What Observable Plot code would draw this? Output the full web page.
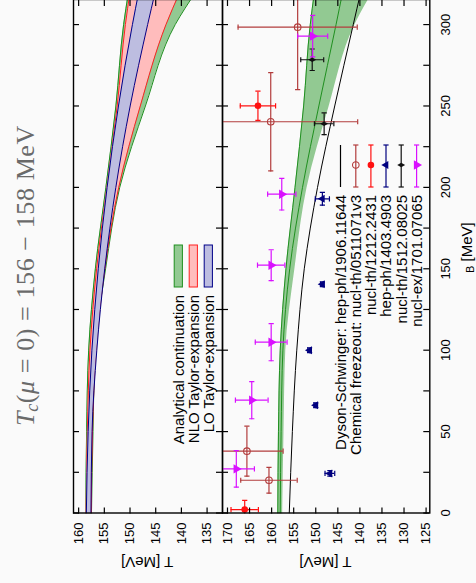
<!DOCTYPE html>
<html><head><meta charset="utf-8">
<script src="https://cdn.jsdelivr.net/npm/d3@7"></script>
<script src="https://cdn.jsdelivr.net/npm/@observablehq/plot@0.6"></script>
<style>
html,body{margin:0;padding:0;background:#fafafa;overflow:hidden;width:476px;height:583px}
#wrap{position:absolute;left:0;top:0;width:583px;height:476px;transform-origin:0 0;transform:translate(0px,583px) rotate(-90deg);}
.panel{position:absolute;left:0}
.panel svg{overflow:visible}
</style></head><body>
<div id="wrap"><div id="upper" class="panel" style="top:70.7px"></div><div id="lower" class="panel" style="top:219.7px"></div></div>
<script>
// ---------- data ----------
const muTickLabels = [0, 50, 100, 150, 200, 250, 300];
const muTicks = [0, 25, 50, 75, 100, 125, 150, 175, 200, 225, 250, 275, 300];
const tTicksUpper = [135, 140, 145, 150, 155, 160];
const tTicksLower = [125, 130, 135, 140, 145, 150, 155, 160, 165, 170];

// crossover bands (mu_B in MeV, T in MeV)
const bandMu  = [0, 50, 100, 150, 200, 250, 300, 320];
const acHigh  = [158.6, 158.45, 158.05, 156.75, 154.7, 152.75, 151.25, 150.3];
const acMid   = [158.05, 157.85, 157.45, 155.9, 153.0, 149.3, 145.4, 143.9];
const acLow   = [157.5, 157.2, 156.8, 154.75, 152.0, 147.0, 141.2, 137.2];
const nloHigh = [158.55, 158.3, 157.8, 156.5, 154.5, 152.5, 150.9, 150.0];
const nloLow  = [157.55, 157.3, 156.6, 154.9, 152.2, 148.0, 143.0, 140.3];
const loHigh  = [158.5, 158.15, 157.42, 156.18, 154.46, 152.25, 149.53, 148.3];
const loLow   = [157.6, 157.39, 156.46, 154.92, 152.76, 149.97, 146.57, 145.1];

// Dyson-Schwinger line
const dsMu = [0, 50, 100, 150, 200, 250, 300, 320];
const dsT  = [156.0, 155.3, 154.3, 152.6, 149.6, 145.7, 141.5, 139.8];

// chemical freeze-out points
const cfLabels = ["nucl-th/0511071v3", "nucl-th/1212.2431", "hep-ph/1403.4903", "nucl-th/1512.08025", "nucl-ex/1701.07065"];
const cfMu    = [[298.4, 240.3, 38.0, 20.1], [250.1, 2.1], [193.0, 140.5, 100.0, 66.2, 24.3], [278.4, 239.1], [292.9, 195.8, 152.2, 104.9, 69.3, 27.1]];
const cfMuErr = [[38.3, 30.2, 15.4, 7.9], [9.0, 5.7], [3.9, 1.5, 1.5, 1.5, 1.7], [6.6, 6.7], [12.7, 9.7, 9.5, 11.4, 11.4, 11.2]];
const cfT     = [[154.1, 160.2, 165.6, 160.6], [163.1, 166.1], [148.5, 148.5, 151.4, 150.0, 146.8], [150.8, 148.1], [150.7, 157.7, 160.1, 160.1, 164.5, 168.0]];
const cfTErr  = [[13.5, 19.7, 8.2, 6.4], [4.0, 3.1], [1.6, 0.4, 0.4, 0.4, 1.1], [2.6, 2.2], [3.4, 3.2, 3.1, 3.6, 3.7, 4.1]];

const upperLegend = ["Analytical continuation", "NLO Taylor-expansion", "LO Taylor-expansion"];
const lowerLegend = ["Dyson-Schwinger: hep-ph/1906.11644", "Chemical freezeout: nucl-th/0511071v3", "nucl-th/1212.2431", "hep-ph/1403.4903", "nucl-th/1512.08025", "nucl-ex/1701.07065"];

// ---------- styles ----------
const cfColor  = ["#b23c3c", "#ff1010", "#00007f", "#111111", "#d910ff"];
const cfSymbol = ["circle", "circle", "triangle", "diamond", "triangle"];
const cfFill   = ["none", "#ff1010", "#00007f", "#111111", "#d910ff"];
const cfRotate = [0, 0, 0, 0, 180];
const cfR      = [3.3, 3.3, 3.0, 2.4, 3.5];
const gFill = "rgba(60,160,60,0.55)", gLine = "#1f8f1f";
const rFill = "#ffbcbc", rLine = "#ff2020";
const bFill = "#bdbde0", bLine = "#000088";

const W = 583, mL = 69.5, frameW = W - mL;
const muDomain = [0, 315.4];
const font = "'Liberation Sans', Arial, sans-serif";
const curve = "monotone-x";

const bandRows = bandMu.map((mu, i) => ({mu, acHigh: acHigh[i], acMid: acMid[i], acLow: acLow[i], nloHigh: nloHigh[i], nloLow: nloLow[i], loHigh: loHigh[i], loLow: loLow[i]}));
const dsRows = dsMu.map((mu, i) => ({mu, T: dsT[i]}));

const hCap = {draw(ctx, size) { const r = Math.sqrt(size / Math.PI); ctx.moveTo(-r, 0); ctx.lineTo(r, 0); }};
const vCap = {draw(ctx, size) { const r = Math.sqrt(size / Math.PI); ctx.moveTo(0, -r); ctx.lineTo(0, r); }};

function frameTicks(tVals, frameH) {
  return [
    Plot.frame({stroke: "black", strokeWidth: 1.4}),
    Plot.tickY(tVals, {y: d => d, insetRight: frameW - 6, stroke: "black", strokeWidth: 1.2}),
    Plot.tickY(tVals, {y: d => d, insetLeft: frameW - 6, stroke: "black", strokeWidth: 1.2}),
    Plot.tickX(muTicks, {x: d => d, insetTop: frameH - 6, stroke: "black", strokeWidth: 1.2}),
    Plot.tickX(muTicks, {x: d => d, insetBottom: frameH - 6, stroke: "black", strokeWidth: 1.2})
  ];
}

// ---------- upper panel ----------
const upH = 149;
const upper = Plot.plot({
  width: W, height: upH + 4,
  marginLeft: mL, marginRight: 0, marginTop: 2, marginBottom: 2,
  style: {background: "transparent", fontFamily: font, fontSize: "13px", color: "black"},
  x: {domain: muDomain, axis: null},
  y: {domain: [132, 161]},
  marks: [
    Plot.areaY(bandRows, {x: "mu", y1: "acLow", y2: "acHigh", fill: gFill, curve, clip: true}),
    Plot.lineY(bandRows, {x: "mu", y: "acLow", stroke: gLine, strokeWidth: 1, curve, clip: true}),
    Plot.lineY(bandRows, {x: "mu", y: "acHigh", stroke: gLine, strokeWidth: 1, curve, clip: true}),
    Plot.areaY(bandRows, {x: "mu", y1: "nloLow", y2: "nloHigh", fill: rFill, curve, clip: true}),
    Plot.lineY(bandRows, {x: "mu", y: "nloLow", stroke: rLine, strokeWidth: 1, curve, clip: true}),
    Plot.lineY(bandRows, {x: "mu", y: "nloHigh", stroke: rLine, strokeWidth: 1, curve, clip: true}),
    Plot.areaY(bandRows, {x: "mu", y1: "loLow", y2: "loHigh", fill: bFill, curve, clip: true}),
    Plot.lineY(bandRows, {x: "mu", y: "loLow", stroke: bLine, strokeWidth: 1, curve, clip: true}),
    Plot.lineY(bandRows, {x: "mu", y: "loHigh", stroke: bLine, strokeWidth: 1, curve, clip: true}),
    ...frameTicks(tTicksUpper, upH),
    Plot.axisY(tTicksUpper, {tickSize: 0, tickPadding: 9.5, label: null, fontSize: 13})
  ]
});
document.getElementById("upper").appendChild(upper);

// ---------- lower panel ----------
const loH = 207.3;
const pointMarks = [];
cfLabels.forEach((lab, s) => {
  const rows = cfMu[s].map((mu, i) => ({mu, dmu: cfMuErr[s][i], T: cfT[s][i], dT: cfTErr[s][i]}));
  const c = cfColor[s];
  pointMarks.push(
    Plot.ruleX(rows, {x: "mu", y1: d => d.T - d.dT, y2: d => d.T + d.dT, stroke: c, strokeWidth: 1.2, clip: true}),
    Plot.ruleY(rows, {y: "T", x1: d => d.mu - d.dmu, x2: d => d.mu + d.dmu, stroke: c, strokeWidth: 1.2, clip: true}),
    Plot.dot(rows, {x: "mu", y: d => d.T + d.dT, symbol: hCap, r: 2.6, stroke: c, strokeWidth: 1.2, clip: true}),
    Plot.dot(rows, {x: "mu", y: d => d.T - d.dT, symbol: hCap, r: 2.6, stroke: c, strokeWidth: 1.2, clip: true}),
    Plot.dot(rows, {x: d => d.mu + d.dmu, y: "T", symbol: vCap, r: 2.6, stroke: c, strokeWidth: 1.2, clip: true}),
    Plot.dot(rows, {x: d => d.mu - d.dmu, y: "T", symbol: vCap, r: 2.6, stroke: c, strokeWidth: 1.2, clip: true}),
    cfFill[s] === "none"
      ? Plot.dot(rows, {x: "mu", y: "T", symbol: cfSymbol[s], r: cfR[s], stroke: c, strokeWidth: 1.1, fill: "none", clip: true})
      : Plot.dot(rows, {x: "mu", y: "T", symbol: cfSymbol[s], r: cfR[s], fill: c, rotate: cfRotate[s], clip: true})
  );
});

const lower = Plot.plot({
  width: W, height: loH + 2 + 47,
  marginLeft: mL, marginRight: 0, marginTop: 2, marginBottom: 47,
  style: {background: "transparent", fontFamily: font, fontSize: "13px", color: "black"},
  x: {domain: muDomain},
  y: {domain: [124.16, 171.13]},
  marks: [
    Plot.areaY(bandRows, {x: "mu", y1: "acLow", y2: "acHigh", fill: gFill, curve, clip: true}),
    Plot.lineY(bandRows, {x: "mu", y: "acHigh", stroke: gLine, strokeWidth: 1, curve, clip: true}),
    Plot.lineY(bandRows, {x: "mu", y: "acMid", stroke: gLine, strokeWidth: 1, curve, clip: true}),
    Plot.lineY(dsRows, {x: "mu", y: "T", stroke: "black", strokeWidth: 1, curve, clip: true}),
    ...pointMarks,
    ...frameTicks(tTicksLower, loH),
    Plot.axisY(tTicksLower, {tickSize: 0, tickPadding: 9.5, label: null, fontSize: 13}),
    Plot.axisX(muTickLabels, {tickSize: 0, tickPadding: 11, label: null, fontSize: 13})
  ]
});
document.getElementById("lower").appendChild(lower);

// ---------- overlay: title, axis labels, legends ----------
const ov = d3.select("#wrap").append("svg")
  .attr("width", W).attr("height", 476)
  .style("position", "absolute").style("left", "0px").style("top", "0px").style("overflow", "visible")
  .attr("font-family", font);

const title = ov.append("text").attr("x", 307.5).attr("y", 34).attr("text-anchor", "middle")
  .attr("font-family", "'Liberation Serif','DejaVu Serif',serif").attr("font-size", 26).attr("fill", "#6a6a6a")
  .style("letter-spacing", "0.6px");
title.append("tspan").attr("font-style", "italic").text("T");
title.append("tspan").attr("font-style", "italic").attr("font-size", 18).attr("dy", 4).attr("dx", -1).text("c");
title.append("tspan").attr("dy", -4).text("(");
title.append("tspan").attr("font-style", "italic").text("μ");
title.append("tspan").text(" = 0) = 156 − 158 MeV");

[147.2, 325.4].forEach(cy => {
  ov.append("text").attr("transform", `translate(20.5,${cy}) rotate(-90)`).attr("text-anchor", "middle")
    .attr("dy", "0.35em").attr("font-size", 15).text("T [MeV]");
});
const xl = ov.append("text").attr("x", 310).attr("y", 472).attr("font-size", 15);
xl.append("tspan").attr("font-size", 11).attr("dy", 2).text("B");
xl.append("tspan").attr("dy", -2).text(" [MeV]");

// upper legend
const upRows = [178.3, 193.3, 208.3];
const upFills = [gFill, rFill, bFill], upLines = [gLine, rLine, bLine];
upperLegend.forEach((lab, i) => {
  ov.append("text").attr("x", 288).attr("y", upRows[i]).attr("dy", "0.36em").attr("text-anchor", "end").attr("font-size", 15).text(lab);
  ov.append("rect").attr("x", 296).attr("y", upRows[i] - 4.1).attr("width", 42).attr("height", 8.2)
    .attr("fill", upFills[i]).attr("stroke", upLines[i]).attr("stroke-width", 1);
});

// lower legend
const loRows = [340.5, 355.8, 370.9, 386.0, 401.2, 416.6];
lowerLegend.forEach((lab, i) => {
  const y = loRows[i];
  ov.append("text").attr("x", 388).attr("y", y).attr("dy", "0.36em").attr("text-anchor", "end").attr("font-size", 15).text(lab);
  const c = i === 0 ? "black" : cfColor[i - 1];
  ov.append("line").attr("x1", 396).attr("x2", 438).attr("y1", y).attr("y2", y).attr("stroke", c).attr("stroke-width", 1.2);
  if (i > 0) {
    const s = i - 1;
    [396, 438].forEach(x => ov.append("line").attr("x1", x).attr("x2", x).attr("y1", y - 2.6).attr("y2", y + 2.6).attr("stroke", c).attr("stroke-width", 1.2));
    const symType = {circle: d3.symbolCircle, triangle: d3.symbolTriangle, diamond: d3.symbolDiamond}[cfSymbol[s]];
    ov.append("path").attr("d", d3.symbol(symType, Math.PI * cfR[s] * cfR[s])())
      .attr("transform", `translate(418,${y}) rotate(${cfRotate[s]})`)
      .attr("fill", cfFill[s]).attr("stroke", cfFill[s] === "none" ? c : "none").attr("stroke-width", 1.1);
  }
});
</script></body></html>
